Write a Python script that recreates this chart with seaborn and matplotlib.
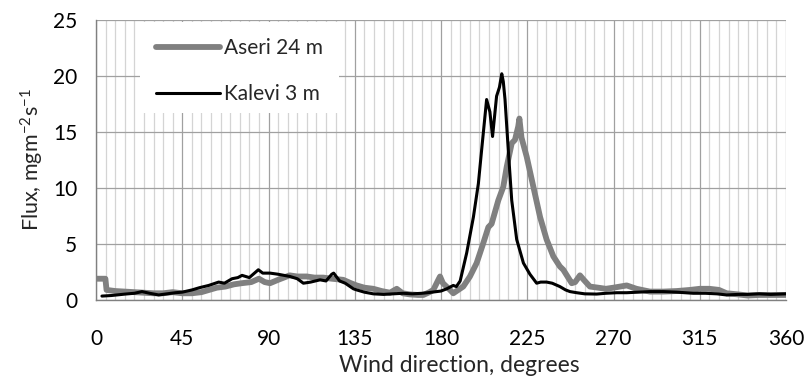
import numpy as np
import pandas as pd
import matplotlib
matplotlib.use("Agg")
import matplotlib.pyplot as plt
import seaborn as sns
from matplotlib.patches import Rectangle
from matplotlib.lines import Line2D
from matplotlib.ticker import MultipleLocator

# ---- data ----
aseri_deg = [0, 4.9, 5.5, 10, 15, 20, 25, 30, 35, 40, 45, 50, 55, 59, 63, 67.5, 72, 76, 81, 85,
             88, 90.8, 95, 101, 105, 110, 114, 118.6, 123, 129, 133, 136, 140, 144.7, 149, 153.4,
             156.9, 160, 163.8, 168, 170.8, 174, 176, 178.6, 179.5, 181, 184.7, 186.4, 189, 191.6,
             195.1, 198.6, 202.1, 204.7, 206.4, 209.9, 212.5, 214.3, 216.9, 218.6, 220.3, 220.9,
             222, 224.7, 228.2, 231.7, 235.1, 238.6, 242, 243.8, 246, 248.2, 250, 252.5, 254.5,
             257.7, 262, 266, 270, 276.9, 282, 289, 296, 303, 310, 315, 320, 325, 329, 335, 340,
             346, 352, 360]
aseri_val = [1.9, 1.9, 0.9, 0.8, 0.75, 0.7, 0.65, 0.6, 0.6, 0.7, 0.6, 0.6, 0.7, 0.9, 1.1, 1.2, 1.4,
             1.5, 1.6, 1.9, 1.6, 1.5, 1.8, 2.2, 2.1, 2.1, 2.0, 2.0, 1.9, 1.8, 1.5, 1.3, 1.1, 1.0,
             0.8, 0.65, 1.0, 0.6, 0.5, 0.45, 0.45, 0.7, 0.9, 1.8, 2.1, 1.5, 0.9, 0.6, 0.9, 1.2,
             2.1, 3.3, 5.1, 6.5, 6.8, 8.9, 10.1, 11.9, 14.0, 14.3, 15.5, 16.2, 14.5, 12.8, 10.1,
             7.4, 5.4, 3.9, 3.0, 2.7, 2.1, 1.5, 1.6, 2.2, 1.8, 1.2, 1.1, 1.0, 1.1, 1.3, 1.0, 0.75,
             0.75, 0.8, 0.9, 1.0, 1.0, 0.9, 0.6, 0.5, 0.4, 0.45, 0.45, 0.45]

kalevi_deg = [3.1, 8, 15.3, 20, 24, 28, 32.7, 37, 41.4, 45, 50.1, 54, 58.8, 64, 67, 71, 74, 76.2,
              80, 82, 84.7, 87, 90.8, 95, 101.2, 105, 108.2, 112, 116.9, 120, 123, 124, 127.1,
              130, 134.3, 136, 140, 144.7, 150, 155, 160.3, 165, 170, 173, 177.7, 180, 183, 186.4,
              188, 190, 193.4, 196.9, 199.5, 201.2, 203.8, 205.5, 206.9, 209, 210.5, 211.7, 212.5,
              213.4, 215.1, 216.9, 219.5, 223, 226.4, 229.9, 232, 235.1, 238, 242, 245, 247.3,
              250.8, 255, 261.2, 266, 271.7, 276.9, 283, 289, 296, 303, 311.6, 318, 324, 329,
              335, 340, 346, 352, 360]
kalevi_val = [0.35, 0.4, 0.53, 0.6, 0.75, 0.6, 0.45, 0.55, 0.65, 0.7, 0.9, 1.1, 1.3, 1.6, 1.5, 1.9,
              2.0, 2.2, 2.0, 2.3, 2.7, 2.4, 2.4, 2.3, 2.1, 1.9, 1.5, 1.6, 1.8, 1.7, 2.3, 2.4, 1.7,
              1.5, 1.0, 0.9, 0.7, 0.55, 0.5, 0.55, 0.6, 0.55, 0.6, 0.65, 0.75, 0.8, 1.0, 1.3, 1.2,
              1.7, 4.2, 7.4, 10.4, 13.4, 17.9, 16.8, 14.6, 18.2, 19.0, 20.2, 19.5, 17.9, 13.4,
              8.9, 5.4, 3.3, 2.3, 1.5, 1.6, 1.6, 1.5, 1.2, 0.9, 0.75, 0.65, 0.55, 0.53, 0.6, 0.65,
              0.65, 0.7, 0.75, 0.75, 0.7, 0.6, 0.6, 0.55, 0.45, 0.5, 0.5, 0.55, 0.5, 0.55]

series_names = ["Aseri 24 m", "Kalevi 3 m"]
x_ticks = [0, 45, 90, 135, 180, 225, 270, 315, 360]
y_ticks = [0, 5, 10, 15, 20, 25]

df = pd.concat([
    pd.DataFrame({"deg": aseri_deg, "flux": aseri_val, "series": series_names[0]}),
    pd.DataFrame({"deg": kalevi_deg, "flux": kalevi_val, "series": series_names[1]}),
], ignore_index=True)

sns.set_theme(style="white")
FONT = ["Lato", "DejaVu Sans"]
plt.rcParams["font.family"] = FONT
plt.rcParams["mathtext.fontset"] = "custom"
plt.rcParams["mathtext.rm"] = "Lato"
plt.rcParams["mathtext.default"] = "regular"

GRAY_LW = 4.2
BLACK_LW = 2.2

fig = plt.figure(figsize=(8.07, 3.90), dpi=100)
ax = fig.add_axes([96 / 807, 1 - 300 / 390, 690 / 807, 280 / 390])

sns.lineplot(data=df, x="deg", y="flux", hue="series", hue_order=series_names,
             palette={series_names[0]: "#808080", series_names[1]: "#000000"},
             estimator=None, sort=False, ax=ax, legend=False)
ax.lines[0].set_linewidth(GRAY_LW)
ax.lines[1].set_linewidth(BLACK_LW)
for ln in ax.lines:
    ln.set_solid_joinstyle("round")
    ln.set_zorder(3)

ax.set_xlim(0, 360)
ax.set_ylim(0, 25)
ax.set_xticks(x_ticks)
ax.set_yticks(y_ticks)
ax.xaxis.set_minor_locator(MultipleLocator(5))
ax.set_axisbelow(True)
ax.grid(which="major", axis="both", color="#a0a0a0", linewidth=0.9)
ax.grid(which="minor", axis="x", color="#d4d4d4", linewidth=0.9)

for s in ["top", "right"]:
    ax.spines[s].set_visible(False)
for s in ["left", "bottom"]:
    ax.spines[s].set_color("#808080")
    ax.spines[s].set_linewidth(1.0)

ax.tick_params(axis="both", which="major", direction="out", length=5.5, width=1.0,
               color="#808080", labelsize=15, labelcolor="black")
ax.tick_params(axis="x", which="major", pad=15.5)
ax.tick_params(axis="y", which="major", pad=8)
ax.tick_params(axis="x", which="minor", length=0)

ax.set_xlabel("Wind direction, degrees", fontsize=16.5)
ax.xaxis.set_label_coords(0.526, -0.195)
ax.set_ylabel("Flux, mgm$^{-2}$s$^{-1}$", fontsize=15.5, labelpad=5)

# white legend box
ax.add_patch(Rectangle((0.064, 0.668), 0.288, 0.325, transform=ax.transAxes,
                       facecolor="white", edgecolor="none", zorder=2))
handles = [Line2D([], [], color="#808080", lw=GRAY_LW),
           Line2D([], [], color="black", lw=BLACK_LW)]
leg = ax.legend(handles, series_names, loc="upper left", bbox_to_anchor=(0.087, 0.935),
                frameon=False, fontsize=15, handlelength=3.05, handletextpad=0.22,
                labelspacing=1.26, borderaxespad=0, borderpad=0)
leg.set_zorder(4)

fig.savefig("out.png", dpi=100)
